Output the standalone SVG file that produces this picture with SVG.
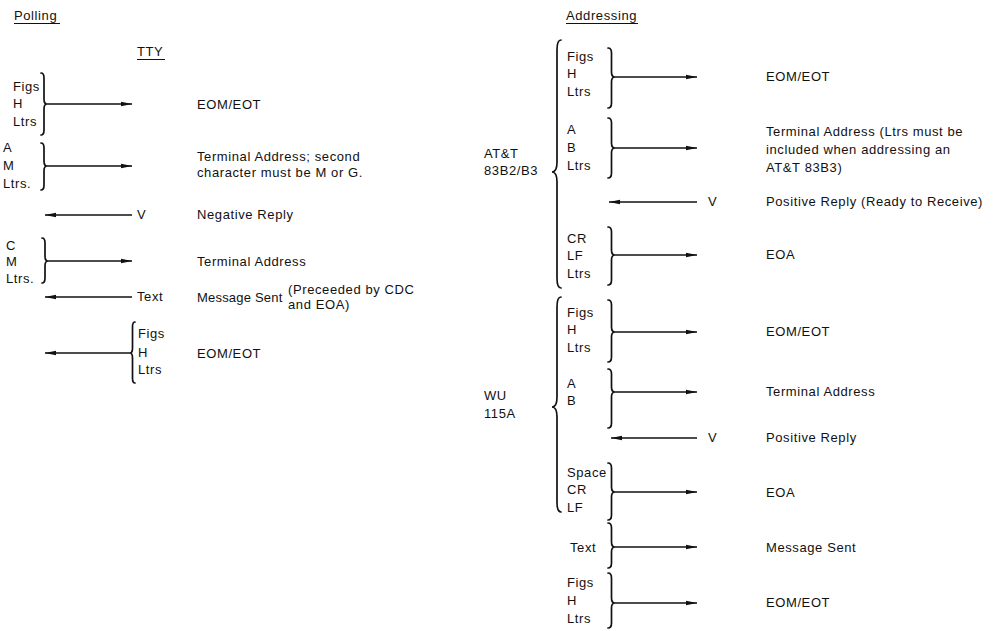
<svg xmlns="http://www.w3.org/2000/svg" width="993" height="631" viewBox="0 0 993 631">
<defs>
<marker id="ah" viewBox="0 0 11 6" refX="11" refY="3" markerWidth="11" markerHeight="6" markerUnits="userSpaceOnUse" orient="auto"><path d="M0,0.8 L11,3 L0,5.2 z" fill="#111"/></marker>
<style>
text{font-family:"Liberation Sans",Arial,sans-serif;font-size:13px;letter-spacing:0.6px;fill:#111;}
.tight{letter-spacing:0.2px;}
.brace{fill:none;stroke:#111;stroke-width:1.7;stroke-linecap:round;}
.arr{fill:none;stroke:#111;stroke-width:1.6;marker-end:url(#ah);}
.ul{stroke:#111;stroke-width:1;}
</style>
</defs>
<rect width="993" height="631" fill="#fff"/>

<g id="titles">
<text x="14" y="20">Polling</text><line class="ul" x1="14" y1="23.5" x2="60" y2="23.5"/>
<text x="137" y="56">TTY</text><line class="ul" x1="137" y1="59.5" x2="165" y2="59.5"/>
<text x="566" y="20">Addressing</text><line class="ul" x1="566" y1="23.5" x2="638" y2="23.5"/>
</g>

<!-- Polling -->
<g id="p1">
<text x="13" y="91">Figs</text><text x="13" y="108">H</text><text x="13" y="126">Ltrs</text>
<path class="brace" d="M41,73 Q44,73 44,78 L44,99 Q44,104 47,104 Q44,104 44,109 L44,130 Q44,135 41,135"/>
<text x="197" y="109">EOM/EOT</text>
</g>
<g id="p2">
<text x="3" y="152">A</text><text x="3" y="170">M</text><text x="3" y="188">Ltrs.</text>
<path class="brace" d="M41,143 Q44,143 44,148 L44,161 Q44,166 47,166 Q44,166 44,171 L44,185 Q44,190 41,190"/>
<text x="197" y="161">Terminal Address; second</text>
<text x="197" y="177">character must be M or G.</text>
</g>
<g id="p3">
<text x="137" y="219">V</text>
<text x="197" y="219">Negative Reply</text>
</g>
<g id="p4">
<text x="6" y="250">C</text><text x="6" y="266">M</text><text x="6" y="283">Ltrs.</text>
<path class="brace" d="M42,238 Q45,238 45,243 L45,256 Q45,261 48,261 Q45,261 45,266 L45,278 Q45,283 42,283"/>
<text x="197" y="266">Terminal Address</text>
</g>
<g id="p5">
<text x="137" y="301">Text</text>
<text class="tight" x="197" y="302">Message Sent</text>
<text x="288" y="294">(Preceeded by CDC</text>
<text x="288" y="309">and EOA)</text>
</g>
<g id="p6">
<path class="brace" d="M135,322 Q132.5,322 132.5,327 L132.5,348 Q132.5,353 130,353 Q132.5,353 132.5,358 L132.5,378 Q132.5,383 135,383"/>
<text x="138" y="338">Figs</text><text x="138" y="357">H</text><text x="138" y="374">Ltrs</text>
<text x="197" y="358">EOM/EOT</text>
</g>

<!-- Addressing AT&T -->
<g id="att">
<text x="484" y="158">AT&amp;T</text><text x="484" y="175">83B2/B3</text>
<path class="brace" d="M561,40 Q557,40 557,50 L557,162 Q557,172 552,172 Q557,172 557,182 L557,278 Q557,288 561,288"/>
</g>
<g id="a1">
<text x="567" y="61">Figs</text><text x="567" y="78">H</text><text x="567" y="96">Ltrs</text>
<path class="brace" d="M608,48 Q611.5,48 611.5,53 L611.5,72 Q611.5,77 615,77 Q611.5,77 611.5,82 L611.5,103 Q611.5,108 608,108"/>
<text x="766" y="81">EOM/EOT</text>
</g>
<g id="a2">
<text x="567" y="134">A</text><text x="567" y="152">B</text><text x="567" y="170">Ltrs</text>
<path class="brace" d="M608,118 Q611.5,118 611.5,123 L611.5,143 Q611.5,148 615,148 Q611.5,148 611.5,153 L611.5,173 Q611.5,178 608,178"/>
<text x="766" y="136">Terminal Address (Ltrs must be</text>
<text x="766" y="154">included when addressing an</text>
<text x="766" y="172">AT&amp;T 83B3)</text>
</g>
<g id="a3">
<text x="708" y="206">V</text>
<text x="766" y="206">Positive Reply (Ready to Receive)</text>
</g>
<g id="a4">
<text x="567" y="243">CR</text><text x="567" y="260">LF</text><text x="567" y="278">Ltrs</text>
<path class="brace" d="M608,227 Q611.5,227 611.5,232 L611.5,250 Q611.5,255 615,255 Q611.5,255 611.5,260 L611.5,280 Q611.5,285 608,285"/>
<text x="766" y="259">EOA</text>
</g>

<!-- Addressing WU -->
<g id="wu">
<text x="484" y="400">WU</text><text x="484" y="418">115A</text>
<path class="brace" d="M561,297 Q557,297 557,307 L557,397 Q557,407 552,407 Q557,407 557,417 L557,502 Q557,512 561,512"/>
</g>
<g id="w1">
<text x="567" y="317">Figs</text><text x="567" y="334">H</text><text x="567" y="352">Ltrs</text>
<path class="brace" d="M608,300 Q611.5,300 611.5,305 L611.5,327 Q611.5,332 615,332 Q611.5,332 611.5,337 L611.5,357 Q611.5,362 608,362"/>
<text x="766" y="336">EOM/EOT</text>
</g>
<g id="w2">
<text x="567" y="388">A</text><text x="567" y="405">B</text>
<path class="brace" d="M608,369 Q611.5,369 611.5,374 L611.5,387 Q611.5,392 615,392 Q611.5,392 611.5,397 L611.5,423 Q611.5,428 608,428"/>
<text x="766" y="396">Terminal Address</text>
</g>
<g id="w3">
<text x="708" y="442">V</text>
<text x="766" y="442">Positive Reply</text>
</g>
<g id="w4">
<text x="567" y="477">Space</text><text x="567" y="494">CR</text><text x="567" y="512">LF</text>
<path class="brace" d="M608,463 Q611.5,463 611.5,468 L611.5,487 Q611.5,492 615,492 Q611.5,492 611.5,497 L611.5,515 Q611.5,520 608,520"/>
<text x="766" y="497">EOA</text>
</g>
<g id="w5">
<text x="570" y="552">Text</text>
<path class="brace" d="M608,523 Q611.5,523 611.5,528 L611.5,542 Q611.5,547 615,547 Q611.5,547 611.5,552 L611.5,563 Q611.5,568 608,568"/>
<text x="766" y="552">Message Sent</text>
</g>
<g id="w6">
<text x="567" y="587">Figs</text><text x="567" y="605">H</text><text x="567" y="623">Ltrs</text>
<path class="brace" d="M608,573 Q611.5,573 611.5,578 L611.5,598 Q611.5,603 615,603 Q611.5,603 611.5,608 L611.5,623 Q611.5,628 608,628"/>
<text x="766" y="607">EOM/EOT</text>
</g>

<g id="connectors">
<line class="arr" x1="47" y1="104" x2="132" y2="104"/>
<line class="arr" x1="47" y1="166" x2="132" y2="166"/>
<line class="arr" x1="132" y1="215" x2="45" y2="215"/>
<line class="arr" x1="48" y1="261" x2="132" y2="261"/>
<line class="arr" x1="132" y1="297" x2="45" y2="297"/>
<line class="arr" x1="130" y1="353" x2="45" y2="353"/>
<line class="arr" x1="615" y1="77" x2="697" y2="77"/>
<line class="arr" x1="615" y1="148" x2="697" y2="148"/>
<line class="arr" x1="697" y1="202" x2="609" y2="202"/>
<line class="arr" x1="615" y1="255" x2="697" y2="255"/>
<line class="arr" x1="615" y1="332" x2="697" y2="332"/>
<line class="arr" x1="615" y1="392" x2="697" y2="392"/>
<line class="arr" x1="697" y1="438" x2="611" y2="438"/>
<line class="arr" x1="615" y1="492" x2="697" y2="492"/>
<line class="arr" x1="615" y1="547" x2="697" y2="547"/>
<line class="arr" x1="615" y1="603" x2="697" y2="603"/>
</g>
</svg>
